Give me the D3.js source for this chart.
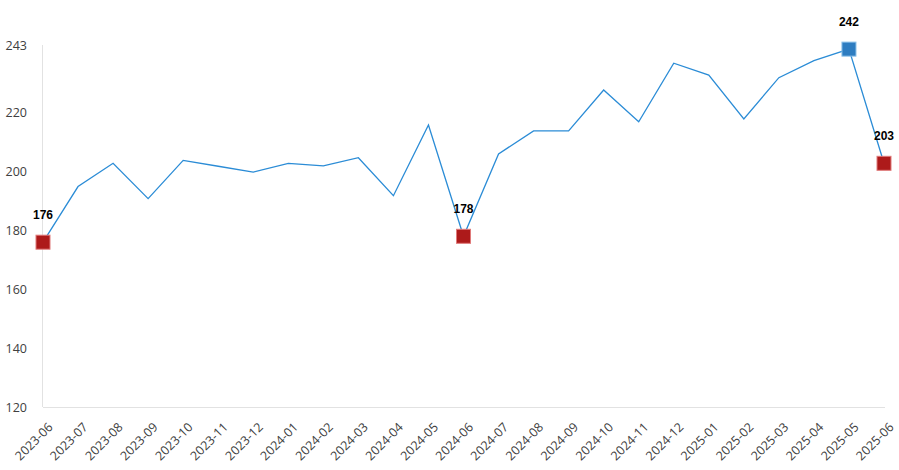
<!DOCTYPE html>
<html><head><meta charset="utf-8">
<script src="https://cdn.jsdelivr.net/npm/d3@7"></script>
<style>
html,body{margin:0;padding:0;background:#fff;}
svg{display:block;}
</style></head>
<body>
<svg id="c" width="899" height="470"></svg>
<script>
const months = ["2023-06","2023-07","2023-08","2023-09","2023-10","2023-11","2023-12","2024-01","2024-02","2024-03","2024-04","2024-05","2024-06","2024-07","2024-08","2024-09","2024-10","2024-11","2024-12","2025-01","2025-02","2025-03","2025-04","2025-05","2025-06"];
const values = [176,194.9,202.8,190.8,203.8,201.8,199.8,202.8,201.9,204.7,191.8,215.8,178,206,213.8,213.8,227.7,216.9,236.8,232.8,217.9,231.9,237.7,241.6,202.8];
const yTicks = [120,140,160,180,200,220,243];
const markMonths = ["2023-06","2024-06","2025-05","2025-06"];
const markKinds = ["low","low","high","low"];

const svg = d3.select("#c");
const x = d3.scalePoint().domain(months).range([43,884]);
const y = d3.scaleLinear().domain([120,243]).range([407,45]);

// axes lines
svg.append("line").attr("x1",42.5).attr("x2",42.5).attr("y1",45).attr("y2",407).attr("stroke","#e2e2e2").attr("stroke-width",1);
svg.append("line").attr("x1",43).attr("x2",885).attr("y1",407.5).attr("y2",407.5).attr("stroke","#e2e2e2").attr("stroke-width",1);

// y ticks
const yAxis = d3.axisLeft(y).tickValues(yTicks).tickSize(0).tickPadding(16).tickFormat(d3.format("d"));
const gy = svg.append("g").attr("transform","translate(43,0)").call(yAxis);
gy.select(".domain").remove();
gy.selectAll("text").attr("font-family","'Open Sans',sans-serif").attr("font-size","12.5px").attr("fill","#404040");

// x ticks
const xAxis = d3.axisBottom(x).tickSize(0).tickPadding(0);
const gx = svg.append("g").attr("transform","translate(0,407)").call(xAxis);
gx.select(".domain").remove();
gx.selectAll("text")
  .attr("font-family","'Open Sans',sans-serif").attr("font-size","12.5px").attr("fill","#404040")
  .attr("text-anchor","end").attr("dy",null).attr("y",null)
  .attr("transform","translate(10,21) rotate(-45)");

// line
const line = d3.line().x((d,i)=>x(months[i])).y(d=>y(d));
svg.append("path").datum(values).attr("d",line).attr("fill","none").attr("stroke","#2b8cd6").attr("stroke-width",1.3);

// markers
const marks = markMonths.map((m,i)=>({m, v: values[months.indexOf(m)], k: markKinds[i]}));
const g = svg.append("g");
g.selectAll("rect").data(marks).join("rect")
  .attr("x",d=>x(d.m)-7).attr("y",d=>y(d.v)-7).attr("width",14).attr("height",14)
  .attr("fill",d=>d.k==="high"?"#2e7dc1":"#ad1a1a")
  .attr("stroke",d=>d.k==="high"?"#86bde8":"#e07a7a").attr("stroke-width",1);
g.selectAll("text").data(marks).join("text")
  .attr("x",d=>x(d.m)).attr("y",d=>y(d.v)-23)
  .attr("text-anchor","middle")
  .attr("font-family","'Liberation Sans',Arial,sans-serif").attr("font-weight","bold").attr("font-size","12px").attr("fill","#000")
  .text(d=>Math.round(d.v));
</script>
</body></html>
